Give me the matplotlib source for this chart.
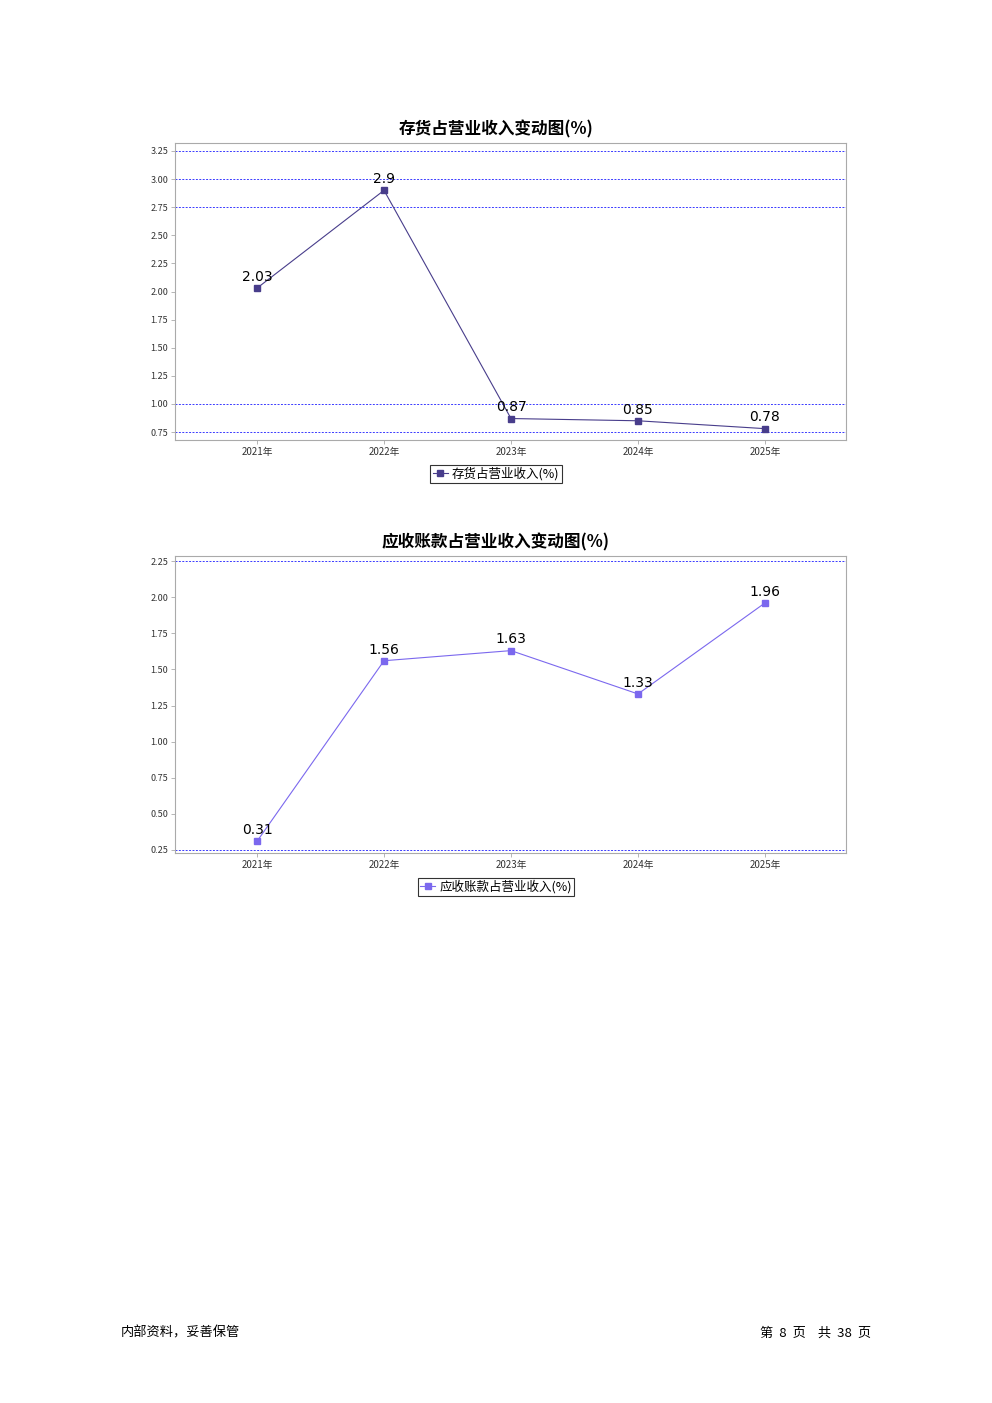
import matplotlib
matplotlib.use('Agg')
import matplotlib.pyplot as plt

plt.rcParams['font.family'] = ['Noto Sans CJK SC', 'DejaVu Sans']

years = ['2021年', '2022年', '2023年', '2024年', '2025年']
inventory_pct = [2.03, 2.9, 0.87, 0.85, 0.78]
receivable_pct = [0.31, 1.56, 1.63, 1.33, 1.96]

inv_ticks = [0.75, 1.00, 1.25, 1.50, 1.75, 2.00, 2.25, 2.50, 2.75, 3.00, 3.25]
inv_grid = [0.75, 1.00, 2.75, 3.00, 3.25]
rec_ticks = [0.25, 0.50, 0.75, 1.00, 1.25, 1.50, 1.75, 2.00, 2.25]
rec_grid = [0.25, 2.25]

W, H = 992, 1403
fig = plt.figure(figsize=(W / 100, H / 100), dpi=100)


def make_chart(top, bottom, values, ticks, grid, ylim, color, title, title_y, legend_y):
    left, right = 175, 846
    ax = fig.add_axes([left / W, 1 - bottom / H, (right - left) / W, (bottom - top) / H])
    x = list(range(len(years)))
    ax.plot(x, values, '-', color=color, lw=0.8, marker='s', ms=5,
            label=title.replace('变动图', ''))
    for xi, v in zip(x, values):
        ax.annotate(f'{v:g}', (xi, v), xytext=(0, 3), textcoords='offset points',
                    ha='center', va='bottom', fontsize=10, color='black',
                    family=['DejaVu Sans'])
    for g in grid:
        ax.axhline(g, color='#3a3aff', lw=0.7, ls=(0, (2, 1.5)), zorder=0)
    ax.set_xlim(-0.646, 4.638)
    ax.set_ylim(*ylim)
    ax.set_xticks(x)
    ax.set_xticklabels(years, fontsize=7, color='#333333')
    ax.set_yticks(ticks)
    ax.set_yticklabels([f'{t:.2f}' for t in ticks], fontsize=6.5, color='#333333')
    ax.tick_params(length=3, width=0.5, color='#999999', pad=2)
    for s in ax.spines.values():
        s.set_color('#aaaaaa')
        s.set_linewidth(0.8)
    fig.text(496 / W, 1 - title_y / H, title, fontsize=12, fontweight='bold',
             ha='center', va='center')
    leg = fig.legend(*ax.get_legend_handles_labels(), loc='center',
                     bbox_to_anchor=(496 / W, 1 - legend_y / H),
                     fontsize=9, frameon=True, fancybox=False, handlelength=1.2,
                     handletextpad=0.3, borderpad=0.2, markerscale=0.8)
    leg.get_frame().set_edgecolor('black')
    leg.get_frame().set_linewidth(0.8)
    return ax


make_chart(143, 440, inventory_pct, inv_ticks, inv_grid, (0.679, 3.321),
           '#483d8b', '存货占营业收入变动图(%)', 129, 474)
make_chart(556, 853, receivable_pct, rec_ticks, rec_grid, (0.229, 2.285),
           '#7b68ee', '应收账款占营业收入变动图(%)', 542, 887)

fig.text(121 / W, 1 - 1333 / H, '内部资料，妥善保管', fontsize=9.5, va='center', ha='left')
fig.text(871 / W, 1 - 1333 / H, '第  8  页    共  38  页', fontsize=9.5, va='center', ha='right')

fig.savefig('out.png', dpi=100)
